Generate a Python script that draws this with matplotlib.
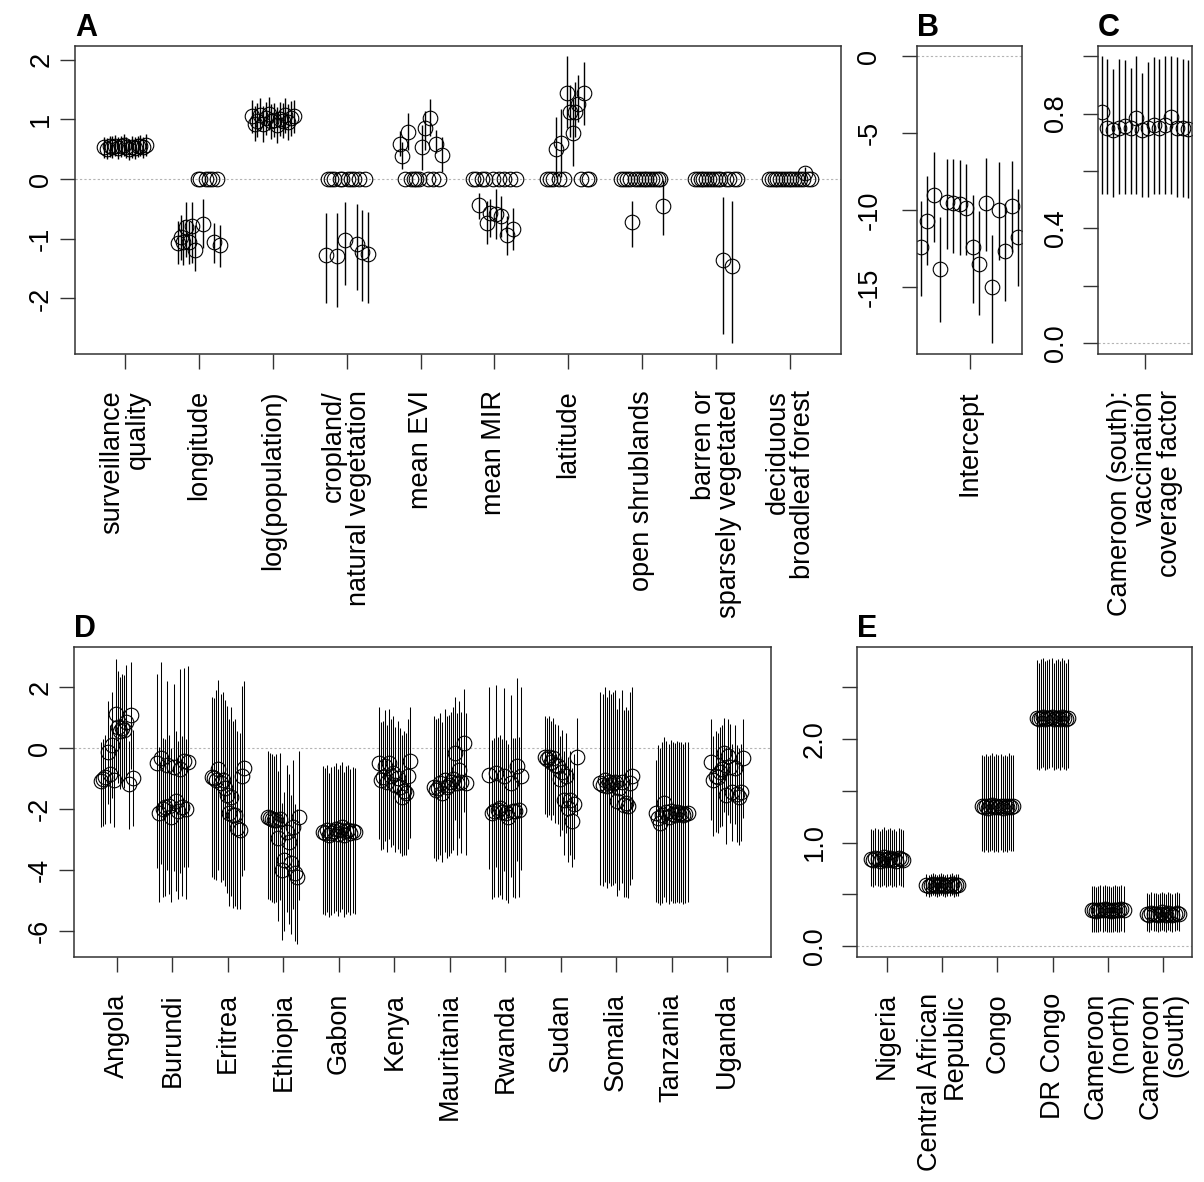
import numpy as np
import matplotlib.pyplot as plt

plt.rcParams['font.family'] = ['Liberation Sans', 'DejaVu Sans']

# ---- panel A: covariate effects, 16 models per covariate (0 = not in model)
a_labels = ["surveillance\nquality", "longitude", "log(population)",
            "cropland/\nnatural vegetation", "mean EVI", "mean MIR", "latitude",
            "open shrublands", "barren or\nsparsely vegetated", "deciduous\nbroadleaf forest"]
a_est = [
    [0.53, 0.51, 0.55, 0.54, 0.56, 0.52, 0.55, 0.57, 0.53, 0.50, 0.54, 0.52, 0.55, 0.56, 0.53, 0.57],
    [-1.07, -0.97, -1.05, -0.80, -1.05, -0.79, -1.18, 0, 0, -0.75, 0, 0, 0, -1.05, 0, -1.11],
    [1.05, 0.93, 0.98, 1.07, 0.93, 1.02, 1.09, 0.97, 0.99, 0.90, 1.01, 0.98, 1.07, 0.96, 1.02, 1.05],
    [-1.27, 0, 0, 0, -1.29, 0, 0, -1.02, 0, 0, 0, -1.09, 0, -1.22, 0, -1.25],
    [0.58, 0.39, 0, 0.79, 0, 0, 0, 0, 0.54, 0.85, 0, 1.02, 0, 0.58, 0, 0.40],
    [0, 0, -0.44, 0, 0, -0.73, -0.57, 0, -0.58, 0, -0.62, 0, -0.94, 0, -0.83, 0],
    [0, 0, 0, 0.50, 0, 0.61, 0, 1.44, 1.13, 0.78, 1.13, 1.25, 0, 1.44, 0, 0],
    [0, 0, 0, 0, -0.72, 0, 0, 0, 0, 0, 0, 0, 0, 0, 0, -0.45],
    [0, 0, 0, 0, 0, 0, 0, 0, 0, 0, -1.35, 0, 0, -1.46, 0, 0],
    [0, 0, 0, 0, 0, 0, 0, 0, 0, 0, 0, 0, 0, 0.10, 0, 0],
]
a_lo = [
    [0.35, 0.33, 0.37, 0.36, 0.38, 0.34, 0.37, 0.39, 0.35, 0.32, 0.36, 0.34, 0.37, 0.38, 0.35, 0.39],
    [-1.42, -1.35, -1.44, -1.30, -1.42, -1.41, -1.54, 0, 0, -1.16, 0, 0, 0, -1.40, 0, -1.48],
    [0.78, 0.64, 0.70, 0.80, 0.62, 0.74, 0.82, 0.68, 0.70, 0.60, 0.72, 0.69, 0.78, 0.66, 0.72, 0.77],
    [-2.08, 0, 0, 0, -2.14, 0, 0, -1.78, 0, 0, 0, -1.85, 0, -2.05, 0, -2.07],
    [0.38, 0.17, 0, 0.49, 0, 0, 0, 0, 0.16, 0.49, 0, 0.72, 0, 0.43, 0, 0.12],
    [0, 0, -0.66, 0, 0, -1.09, -0.97, 0, -1.01, 0, -0.97, 0, -1.27, 0, -1.19, 0],
    [0, 0, 0, 0.03, 0, 0.03, 0, 0.85, 0.70, 0.22, 0.70, 0.95, 0, 0.90, 0, 0],
    [0, 0, 0, 0, -1.14, 0, 0, 0, 0, 0, 0, 0, 0, 0, 0, -0.94],
    [0, 0, 0, 0, 0, 0, 0, 0, 0, 0, -2.60, 0, 0, -2.75, 0, 0],
    [0, 0, 0, 0, 0, 0, 0, 0, 0, 0, 0, 0, 0, -0.01, 0, 0],
]
a_hi = [
    [0.71, 0.69, 0.73, 0.72, 0.74, 0.70, 0.73, 0.75, 0.71, 0.68, 0.72, 0.70, 0.73, 0.74, 0.71, 0.75],
    [-0.71, -0.60, -0.68, -0.39, -0.70, -0.39, -0.77, 0, 0, -0.34, 0, 0, 0, -0.73, 0, -0.77],
    [1.32, 1.22, 1.27, 1.36, 1.22, 1.30, 1.38, 1.26, 1.28, 1.20, 1.30, 1.27, 1.36, 1.25, 1.31, 1.33],
    [-0.57, 0, 0, 0, -0.57, 0, 0, -0.39, 0, 0, 0, -0.42, 0, -0.52, 0, -0.55],
    [0.80, 0.62, 0, 1.11, 0, 0, 0, 0, 0.90, 1.14, 0, 1.35, 0, 0.83, 0, 0.70],
    [0, 0, -0.23, 0, 0, -0.36, -0.33, 0, -0.16, 0, -0.28, 0, -0.62, 0, -0.49, 0],
    [0, 0, 0, 1.04, 0, 1.17, 0, 2.06, 1.57, 1.35, 1.63, 1.75, 0, 1.96, 0, 0],
    [0, 0, 0, 0, -0.36, 0, 0, 0, 0, 0, 0, 0, 0, 0, 0, -0.02],
    [0, 0, 0, 0, 0, 0, 0, 0, 0, 0, -0.30, 0, 0, -0.36, 0, 0],
    [0, 0, 0, 0, 0, 0, 0, 0, 0, 0, 0, 0, 0, 0.20, 0, 0],
]

# ---- panel B: intercept
b_est = [-12.38, -10.69, -9.05, -13.81, -9.48, -9.57, -9.63, -9.89,
         -12.38, -13.51, -9.52, -14.98, -10.00, -12.66, -9.74, -11.77]
b_lo = [-15.60, -13.57, -12.06, -17.25, -12.55, -12.77, -12.90, -12.92,
        -16.06, -16.82, -12.64, -18.66, -13.25, -15.89, -12.71, -14.94]
b_hi = [-9.40, -7.79, -6.21, -10.43, -6.69, -6.69, -6.75, -7.01,
        -9.03, -10.06, -6.60, -11.62, -6.86, -9.52, -6.79, -8.66]

# ---- panel C: vaccination coverage factor
c_est = [0.805, 0.748, 0.742, 0.748, 0.755, 0.748, 0.785, 0.742,
         0.748, 0.759, 0.748, 0.759, 0.789, 0.748, 0.748, 0.745]
c_lo = [0.52, 0.52, 0.51, 0.52, 0.52, 0.52, 0.52, 0.51,
        0.51, 0.52, 0.52, 0.52, 0.52, 0.51, 0.51, 0.505]
c_hi = [1.0, 0.99, 0.955, 0.99, 0.985, 0.96, 1.0, 0.94,
        0.98, 0.995, 0.99, 1.0, 1.0, 0.995, 0.99, 0.985]

# ---- panel D: country effects
d_labels = ["Angola", "Burundi", "Eritrea", "Ethiopia", "Gabon", "Kenya",
            "Mauritania", "Rwanda", "Sudan", "Somalia", "Tanzania", "Uganda"]
d_est = [
    [-1.07, -1.00, -0.95, -0.14, -0.85, 0.11, -1.05, 1.12, 0.71, 0.55, 0.65, 0.60, 0.87, -1.17, 1.10, -0.99],
    [-0.50, -2.13, -0.33, -2.00, -1.95, -0.56, -1.90, -2.25, -0.62, -1.75, -2.05, -0.69, -1.92, -0.41, -2.00, -0.45],
    [-0.95, -0.99, -1.05, -0.69, -1.15, -1.05, -1.30, -1.54, -2.14, -1.59, -2.20, -2.19, -2.63, -2.70, -0.90, -0.66],
    [-2.27, -2.30, -2.33, -2.36, -2.35, -2.96, -2.33, -4.00, -3.67, -2.75, -3.07, -3.78, -2.60, -4.10, -4.24, -2.25],
    [-2.75, -2.80, -2.70, -2.85, -2.78, -2.72, -2.66, -2.82, -2.70, -2.60, -2.85, -2.74, -2.68, -2.80, -2.72, -2.76],
    [-0.48, -1.04, -0.95, -0.60, -1.10, -0.50, -0.90, -0.82, -1.20, -0.99, -1.26, -1.59, -1.40, -1.48, -0.93, -0.41],
    [-1.26, -1.37, -1.30, -1.15, -1.48, -1.04, -1.26, -1.20, -1.10, -1.00, -0.16, -1.15, -0.71, -1.10, 0.16, -1.15],
    [-0.88, -2.12, -2.05, -0.82, -2.03, -1.98, -2.10, -0.93, -2.14, -2.25, -1.15, -2.05, -2.08, -0.60, -2.03, -0.90],
    [-0.28, -0.35, -0.30, -0.45, -0.33, -0.55, -0.60, -1.00, -0.79, -1.70, -0.90, -1.97, -1.70, -2.41, -1.85, -0.28],
    [-1.15, -1.20, -1.04, -1.25, -1.10, -1.20, -1.15, -1.10, -1.75, -1.30, -1.10, -1.86, -1.80, -1.90, -1.15, -0.90],
    [-2.14, -2.30, -2.47, -2.20, -1.81, -2.10, -2.25, -2.07, -2.15, -2.20, -2.10, -2.18, -2.12, -2.20, -2.16, -2.14],
    [-0.44, -1.04, -0.90, -0.95, -0.77, -0.70, -0.16, -1.53, -0.25, -0.61, -1.43, -0.65, -1.50, -1.60, -1.45, -0.33],
]
d_lo = [
    [-2.60, -2.55, -2.50, -1.85, -2.45, -1.65, -2.60, -0.75, -1.15, -1.35, -1.25, -1.30, -1.00, -2.65, -0.70, -2.55],
    [-3.95, -5.05, -3.80, -4.90, -4.85, -4.00, -4.80, -5.05, -4.05, -4.70, -4.95, -4.10, -4.85, -3.90, -4.95, -3.90],
    [-4.25, -4.30, -4.35, -4.00, -4.40, -4.35, -4.55, -4.75, -5.20, -4.85, -5.25, -5.20, -5.30, -5.30, -4.20, -4.00],
    [-4.95, -5.00, -5.05, -5.10, -5.05, -5.70, -5.00, -6.30, -6.00, -5.40, -5.80, -6.10, -5.30, -6.35, -6.45, -5.00],
    [-5.45, -5.50, -5.40, -5.55, -5.48, -5.42, -5.35, -5.52, -5.40, -5.30, -5.55, -5.44, -5.38, -5.50, -5.42, -5.46],
    [-3.00, -3.35, -3.30, -3.05, -3.40, -3.00, -3.25, -3.20, -3.40, -3.30, -3.45, -3.55, -3.50, -3.50, -3.30, -2.95],
    [-3.60, -3.70, -3.65, -3.50, -3.75, -3.40, -3.60, -3.55, -3.45, -3.35, -2.35, -3.50, -2.95, -3.45, -2.10, -3.50],
    [-3.98, -4.97, -4.90, -3.92, -4.88, -4.83, -4.95, -4.03, -4.99, -5.10, -4.25, -4.90, -4.93, -3.70, -4.88, -4.00],
    [-2.15, -2.25, -2.20, -2.35, -2.20, -2.45, -2.50, -2.90, -2.70, -3.50, -2.80, -3.75, -3.50, -3.90, -3.65, -2.20],
    [-4.50, -4.55, -4.40, -4.60, -4.45, -4.55, -4.50, -4.45, -4.85, -4.65, -4.45, -4.90, -4.88, -4.93, -4.50, -4.30],
    [-5.05, -5.10, -5.16, -5.08, -4.90, -5.05, -5.12, -5.04, -5.08, -5.10, -5.05, -5.10, -5.06, -5.12, -5.08, -5.07],
    [-2.35, -2.90, -2.75, -2.80, -2.60, -2.55, -2.10, -3.15, -2.20, -2.45, -3.05, -2.50, -3.10, -3.20, -3.05, -2.30],
]
d_hi = [
    [0.20, 0.30, 0.45, 1.55, 0.75, 1.85, 0.35, 2.95, 2.55, 2.35, 2.45, 2.40, 2.75, 0.25, 2.85, 0.60],
    [2.45, 0.05, 2.85, 0.35, 0.30, 2.20, 0.45, 0.00, 2.10, 0.55, 0.25, 2.60, 0.40, 2.65, 0.30, 2.70],
    [1.70, 1.65, 1.90, 2.25, 1.80, 1.85, 1.60, 1.40, 0.95, 1.35, 0.90, 0.95, 0.55, 0.50, 2.05, 2.20],
    [-0.10, -0.15, -0.20, -0.25, -0.20, -0.75, -0.15, -1.80, -1.45, -0.55, -0.85, -1.55, -0.40, -1.85, -2.00, -0.10],
    [-0.60, -0.65, -0.55, -0.80, -0.62, -0.58, -0.50, -0.70, -0.55, -0.45, -0.78, -0.60, -0.55, -0.68, -0.62, -0.65],
    [1.35, 0.85, 0.90, 1.25, 0.75, 1.30, 0.95, 1.05, 0.70, 0.90, 0.65, 0.45, 0.55, 0.50, 0.95, 1.35],
    [1.05, 0.95, 1.00, 1.15, 0.85, 1.30, 1.05, 1.10, 1.20, 1.35, 1.70, 1.15, 1.55, 1.20, 1.95, 1.15],
    [2.02, 0.28, 0.35, 2.08, 0.37, 0.42, 0.30, 1.97, 0.26, 0.15, 1.75, 0.35, 0.32, 2.30, 0.37, 2.00],
    [1.05, 1.00, 1.05, 0.90, 1.00, 0.80, 0.75, 0.40, 0.60, -0.10, 0.50, -0.30, -0.10, -0.65, -0.20, 1.00],
    [1.85, 1.80, 2.00, 1.70, 1.90, 1.80, 1.85, 1.90, 1.30, 1.65, 1.90, 1.27, 1.35, 1.25, 1.85, 2.03],
    [-0.40, 0.10, 0.00, 0.20, 0.38, 0.25, 0.15, 0.28, 0.22, 0.18, 0.25, 0.20, 0.22, 0.15, 0.20, 0.22],
    [0.95, 0.40, 0.55, 0.50, 0.70, 0.75, 1.00, 0.05, 0.95, 0.80, 0.15, 0.75, 0.10, 0.00, 0.15, 0.95],
]

# ---- panel E: reference countries
e_labels = ["Nigeria", "Central African\nRepublic", "Congo", "DR Congo",
            "Cameroon\n(north)", "Cameroon\n(south)"]
e_est = [
    [0.84, 0.83, 0.85, 0.84, 0.82, 0.84, 0.86, 0.83, 0.84, 0.85, 0.83, 0.84, 0.82, 0.85, 0.84, 0.83],
    [0.59, 0.58, 0.59, 0.60, 0.59, 0.58, 0.59, 0.60, 0.59, 0.58, 0.59, 0.59, 0.60, 0.58, 0.59, 0.59],
    [1.35, 1.34, 1.35, 1.33, 1.35, 1.36, 1.34, 1.35, 1.34, 1.35, 1.33, 1.35, 1.34, 1.35, 1.34, 1.35],
    [2.20, 2.19, 2.20, 2.21, 2.19, 2.20, 2.20, 2.21, 2.19, 2.20, 2.20, 2.19, 2.21, 2.20, 2.19, 2.20],
    [0.35, 0.35, 0.34, 0.35, 0.35, 0.35, 0.36, 0.35, 0.35, 0.34, 0.35, 0.35, 0.35, 0.35, 0.36, 0.35],
    [0.31, 0.30, 0.32, 0.31, 0.31, 0.30, 0.31, 0.33, 0.31, 0.30, 0.32, 0.31, 0.30, 0.31, 0.32, 0.31],
]
e_lo = [
    [0.58, 0.57, 0.59, 0.58, 0.57, 0.58, 0.59, 0.57, 0.58, 0.59, 0.57, 0.58, 0.57, 0.59, 0.58, 0.57],
    [0.48, 0.47, 0.48, 0.49, 0.48, 0.47, 0.48, 0.49, 0.48, 0.47, 0.48, 0.48, 0.49, 0.47, 0.48, 0.48],
    [0.92, 0.91, 0.93, 0.91, 0.92, 0.93, 0.91, 0.92, 0.91, 0.93, 0.91, 0.92, 0.91, 0.93, 0.92, 0.92],
    [1.71, 1.70, 1.72, 1.73, 1.70, 1.71, 1.72, 1.73, 1.70, 1.71, 1.72, 1.70, 1.73, 1.71, 1.70, 1.72],
    [0.14, 0.14, 0.135, 0.14, 0.145, 0.14, 0.15, 0.14, 0.14, 0.135, 0.14, 0.145, 0.14, 0.14, 0.15, 0.14],
    [0.15, 0.14, 0.155, 0.15, 0.15, 0.14, 0.15, 0.155, 0.15, 0.14, 0.155, 0.15, 0.14, 0.15, 0.155, 0.15],
]
e_hi = [
    [1.13, 1.12, 1.14, 1.13, 1.11, 1.13, 1.15, 1.12, 1.13, 1.14, 1.12, 1.13, 1.11, 1.14, 1.13, 1.12],
    [0.70, 0.69, 0.70, 0.71, 0.70, 0.69, 0.70, 0.71, 0.70, 0.69, 0.70, 0.70, 0.71, 0.69, 0.70, 0.70],
    [1.85, 1.84, 1.86, 1.84, 1.85, 1.87, 1.84, 1.86, 1.85, 1.86, 1.84, 1.85, 1.84, 1.87, 1.85, 1.85],
    [2.76, 2.74, 2.77, 2.78, 2.75, 2.76, 2.77, 2.78, 2.74, 2.76, 2.77, 2.75, 2.78, 2.76, 2.74, 2.77],
    [0.58, 0.58, 0.57, 0.58, 0.59, 0.58, 0.59, 0.58, 0.58, 0.57, 0.58, 0.59, 0.58, 0.58, 0.59, 0.58],
    [0.51, 0.50, 0.52, 0.51, 0.51, 0.50, 0.51, 0.52, 0.51, 0.50, 0.52, 0.51, 0.50, 0.51, 0.52, 0.51],
]

W, H = 1204, 1182
fig = plt.figure(figsize=(W / 100, H / 100), dpi=100)
jit = np.linspace(-0.285, 0.285, 16)   # horizontal offset of each model
FS = 19.5


def panel(l, t, r, b, est, lo, hi, xlim, ylim, letter, lw=1.0):
    ax = fig.add_axes([l / W, 1 - b / H, (r - l) / W, (b - t) / H])
    ax.axhline(0, color='#b4b4b4', lw=0.8, ls=(0, (2, 2)), zorder=0)
    for g in range(len(est)):
        x = g + 1 + jit
        ax.vlines(x, lo[g], hi[g], color='k', lw=lw)
        ax.plot(x, est[g], 'o', mfc='none', mec='k', ms=10.5, mew=0.8, ls='none')
    ax.set_xlim(*xlim)
    ax.set_ylim(*ylim)
    ax.tick_params(direction='out', length=11, width=1, labelsize=FS, color='#333333')
    for s in ax.spines.values():
        s.set_color('#333333')
        s.set_linewidth(1.1)
    fig.text(l / W, 1 - 36 / H if t < 100 else 1 - 637 / H, letter,
             fontsize=22, fontweight='bold', ha='left', va='baseline')
    return ax


def xlabels(ax, labels):
    ax.set_xticks(range(1, len(labels) + 1))
    ax.set_xticklabels(labels, rotation=90, ha='center', va='top',
                       multialignment='right', linespacing=0.95)
    ax.tick_params(axis='x', pad=15)


def ylabels(ax, ticks, labels, pad):
    ax.set_yticks(ticks)
    ax.set_yticklabels(labels, rotation=90, va='center')
    ax.tick_params(axis='y', pad=pad)


axA = panel(75, 46, 841, 354, a_est, a_lo, a_hi, (0.323, 10.69), (-2.93, 2.23), 'A')
xlabels(axA, a_labels)
ylabels(axA, [-2, -1, 0, 1, 2], ['-2', '-1', '0', '1', '2'], 4)

axB = panel(917, 46, 1022, 354, [b_est], [b_lo], [b_hi], (0.692, 1.308), (-19.35, 0.65), 'B')
xlabels(axB, ["Intercept"])
ylabels(axB, [-15, -10, -5, 0], ['-15', '-10', '-5', '0'], 14)

axC = panel(1098, 46, 1192, 354, [c_est], [c_lo], [c_hi], (0.692, 1.308), (-0.037, 1.035), 'C')
xlabels(axC, ["Cameroon (south):\nvaccination\ncoverage factor"])
ylabels(axC, [0, 0.2, 0.4, 0.6, 0.8, 1.0], ['0.0', '', '0.4', '', '0.8', ''], 10)

axD = panel(74, 647, 771, 957, d_est, d_lo, d_hi, (0.225, 12.79), (-6.87, 3.33), 'D', lw=0.75)
xlabels(axD, d_labels)
ylabels(axD, [-6, -4, -2, 0, 2], ['-6', '-4', '-2', '0', '2'], 4)

axE = panel(857, 647, 1192, 957, e_est, e_lo, e_hi, (0.457, 6.525), (-0.106, 2.89), 'E', lw=0.75)
xlabels(axE, e_labels)
ylabels(axE, [0, 0.5, 1.0, 1.5, 2.0, 2.5], ['0.0', '', '1.0', '', '2.0', ''], 10)

fig.savefig('out.png', dpi=100)
